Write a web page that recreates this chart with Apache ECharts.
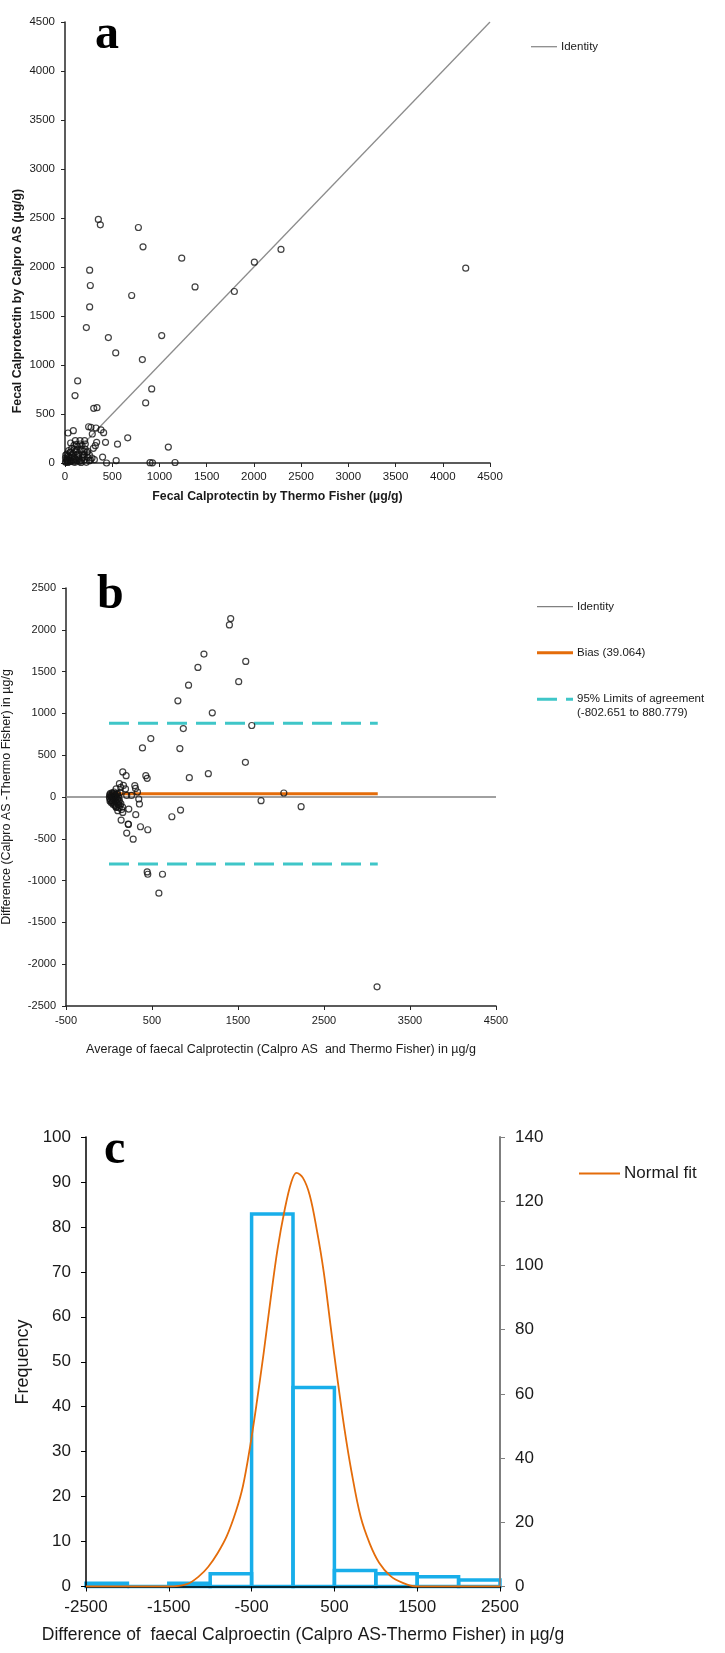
<!DOCTYPE html>
<html><head><meta charset="utf-8">
<script src="https://cdn.jsdelivr.net/npm/echarts@6.0.0/dist/echarts.min.js"></script>
<style>html,body{margin:0;padding:0;background:#fff}#c{width:725px;height:1653px}</style>
</head><body><div id="c"></div>
<script>
// ---------- Panel a: Calpro AS vs Thermo Fisher ----------
const scatterA = [
 [353,2485],[374,2430],[777,2403],[826,2206],[1236,2090],[2005,2049],[2287,2179],[4243,1988],
 [261,1968],[268,1811],[1377,1797],[706,1709],[1793,1750],[261,1593],[226,1382],[459,1280],
 [1024,1300],[537,1123],[819,1055],[134,837],[106,688],[918,756],[854,613],[304,558],[339,565],
 [32,306],[88,330],[60,204],[109,228],[159,228],[208,228],[162,194],[215,194],[134,167],[124,133],
 [53,109],[85,99],[117,116],[169,133],[198,119],[233,109],[258,82],[286,51],[311,34],[258,24],
 [398,60],[440,0],[542,25],[21,41],[35,75],[64,58],[99,51],[141,65],[180,51],[205,31],[56,17],
 [106,7],[155,17],[226,7],[11,7],[25,24],[85,31],[127,24],[177,24],[74,75],[240,58],[187,85],
 [148,92],[205,82],[39,126],[71,150],[212,143],[321,177],[335,211],[289,296],[250,370],[275,364],
 [328,357],[381,337],[409,309],[429,211],[556,192],[664,257],[1094,162],[900,3],[926,2],[1165,5],
 [5,10],[15,30],[30,5],[45,60],[20,90],[50,35],[70,20],[90,10],[110,40],[130,80],[150,45],[170,5],
 [190,60],[60,110],[100,140],[120,190],[180,180],[240,120],[270,30],[300,150],[5,50],[8,80],[40,15],[95,180]
];
const identityA = [[0,0],[4500,4500]];

// ---------- Panel b: Bland-Altman ----------
const blandB = [
 [1415,2134],[1400,2058],[1104,1710],[1590,1622],[1034,1550],[1508,1379],[925,1338],[801,1151],
 [1201,1007],[1660,855],[864,819],[486,699],[389,587],[824,579],[1586,415],[1155,279],[934,231],
 [428,255],[444,223],[160,300],[199,255],[121,159],[2033,48],[1768,-44],[2234,-116],[832,-156],
 [731,-236],[311,-212],[366,-356],[451,-392],[226,-328],[206,-432],[281,-504],[444,-896],[451,-924],
 [622,-924],[580,-1151],[3117,-2271],
 [136,115],[168,139],[192,96],[300,135],[308,103],[331,60],[346,-24],[354,-84],[261,19],[206,19],
 [230,-144],[160,-184],[141,-276],[223,-324],[83,-125],[102,-164],[63,-84],[121,-44],[43,-44],[83,96],[129,55],
 [5,0],[10,-20],[15,20],[20,-40],[25,10],[30,-10],[35,30],[40,-60],[45,5],[50,-25],[55,40],[60,-5],
 [65,15],[70,-50],[75,25],[80,-15],[85,0],[90,-70],[95,35],[100,-30],[105,10],[110,-90],[115,-10],
 [8,30],[12,-50],[18,45],[28,-70],[38,50],[48,-90],[58,60],[68,-100],[78,-110],[88,-120],[98,45],
 [108,-60],[118,-130],[128,-100],[138,-80],[148,-150],[158,-120]
];
const identityB = [[-500,0],[4500,0]];
const biasB = [[0,39.064],[3125,39.064]];
const upperLoA = [[0,880.779],[3125,880.779]];
const lowerLoA = [[0,-802.651],[3125,-802.651]];
const xLabelsB = [-500,500,1500,2500,3500,4500];

// ---------- Panel c: histogram of differences ----------
const histBinStarts = [-2500,-2000,-1500,-1000,-500,0,500,1000,1500,2000];
const histBinWidth = 500;
const histCounts = [1,0,1,4,116,62,5,4,3,2];
const normalFit = [
 [-2500,0],[-1500,0],[-1274,0.6],[-1134,2.3],[-1023,4.4],[-911,7.4],[-800,11.2],[-688,16.8],
 [-605,22.3],[-521,30.8],[-437,41],[-354,52],[-270,64],[-187,75],[-103,83.6],[-20,90],[42,92],
 [120,90.9],[203,87],[287,79.4],[371,70],[454,58],[538,46],[622,35],[705,25.7],[817,15.5],
 [928,9.5],[1040,5.3],[1179,2.3],[1319,0.85],[1487,0],[2500,0]
];
const xLabelsC = [-2500,-1500,-500,500,1500,2500];

const histData = histBinStarts.map((s, i) => [s, s + histBinWidth, histCounts[i]]);

const SANS = "'Liberation Sans',Arial,sans-serif";
const SERIF = "'Liberation Serif','Times New Roman',serif";
const AX = '#262626';
const plain = v => String(v);

const chart = echarts.init(document.getElementById('c'), null, {renderer:'canvas'});

function txt(x, y, s, font, size, opt) {
  opt = opt || {};
  return {type:'text', x:x, y:y, rotation: opt.rot || 0, silent:true,
    style:{text:s, fontFamily:font, fontSize:size, fontWeight: opt.bold ? 'bold':'normal',
      fill: opt.color || '#1a1a1a', align: opt.align || 'left', verticalAlign: opt.va || 'middle'}};
}
function seg(x1, y1, x2, y2, color, w, dash) {
  return {type:'line', silent:true, shape:{x1:x1,y1:y1,x2:x2,y2:y2},
    style:{stroke:color, lineWidth:w, lineDash: dash || null}};
}

const option = {
  animation:false,
  backgroundColor:'#fff',
  grid:[
    {left:65, top:22, width:425, height:441},
    {left:66, top:588, width:430, height:418},
    {left:86, top:1137, width:414, height:449.5}
  ],
  xAxis:[
    {gridIndex:0, type:'value', min:0, max:4500, interval:500,
     axisLine:{onZero:false, lineStyle:{color:AX, width:1.5}}, axisTick:{length:4, lineStyle:{color:AX}},
     axisLabel:{formatter:plain, fontFamily:SANS, fontSize:11.5, color:'#1a1a1a', margin:8}, splitLine:{show:false}},
    {gridIndex:1, type:'value', min:-500, max:4500, interval:500,
     axisLine:{onZero:false, lineStyle:{color:AX, width:1.5}},
     axisTick:{customValues:xLabelsB, length:4, lineStyle:{color:AX}},
     axisLabel:{customValues:xLabelsB, formatter:plain, fontFamily:SANS, fontSize:11, color:'#1a1a1a', margin:9},
     splitLine:{show:false}},
    {gridIndex:2, type:'value', min:-2500, max:2500, interval:500, z:3,
     axisLine:{onZero:false, lineStyle:{color:'#000', width:1.5}},
     axisTick:{customValues:xLabelsC, length:5, lineStyle:{color:'#000'}},
     axisLabel:{customValues:xLabelsC, formatter:plain, fontFamily:SANS, fontSize:17, color:'#1a1a1a', margin:12},
     splitLine:{show:false}}
  ],
  yAxis:[
    {gridIndex:0, type:'value', min:0, max:4500, interval:500,
     axisLine:{show:true, onZero:false, lineStyle:{color:AX, width:1.5}}, axisTick:{show:true, length:4, lineStyle:{color:AX}},
     axisLabel:{formatter:plain, fontFamily:SANS, fontSize:11.5, color:'#1a1a1a', margin:10}, splitLine:{show:false}},
    {gridIndex:1, type:'value', min:-2500, max:2500, interval:500,
     axisLine:{show:true, onZero:false, lineStyle:{color:AX, width:1.5}}, axisTick:{show:true, length:4, lineStyle:{color:AX}},
     axisLabel:{formatter:plain, fontFamily:SANS, fontSize:11, color:'#1a1a1a', margin:10}, splitLine:{show:false}},
    {gridIndex:2, type:'value', min:0, max:100, interval:10, position:'left', z:3,
     axisLine:{show:true, onZero:false, lineStyle:{color:'#000', width:1.5}}, axisTick:{show:true, length:5, lineStyle:{color:'#000'}},
     axisLabel:{formatter:plain, fontFamily:SANS, fontSize:17, color:'#1a1a1a', margin:15}, splitLine:{show:false}},
    {gridIndex:2, type:'value', min:0, max:140, interval:20, position:'right', z:3,
     axisLine:{show:true, onZero:false, lineStyle:{color:'#7f7f7f', width:2}}, axisTick:{show:true, length:5, lineStyle:{color:'#7f7f7f'}},
     axisLabel:{formatter:plain, fontFamily:SANS, fontSize:17, color:'#1a1a1a', margin:15}, splitLine:{show:false}}
  ],
  series:[
    {type:'line', name:'Identity', xAxisIndex:0, yAxisIndex:0, data:identityA, symbol:'none',
     lineStyle:{color:'#8c8c8c', width:1.3}, z:1, silent:true},
    {type:'scatter', xAxisIndex:0, yAxisIndex:0, data:scatterA, symbol:'circle', symbolSize:6,
     itemStyle:{color:'rgba(255,255,255,0)', borderColor:'#111', borderWidth:1.2}, z:3, silent:true},
    {type:'line', name:'Identity', xAxisIndex:1, yAxisIndex:1, data:identityB, symbol:'none',
     lineStyle:{color:'#808080', width:1.3}, z:1, silent:true},
    {type:'line', name:'Bias (39.064)', xAxisIndex:1, yAxisIndex:1, data:biasB, symbol:'none',
     lineStyle:{color:'#e46c0a', width:3}, z:2, silent:true},
    {type:'line', name:'95% Limits of agreement', xAxisIndex:1, yAxisIndex:1, data:upperLoA, symbol:'none',
     lineStyle:{color:'#3fc6c8', width:3, type:[20,9]}, z:2, silent:true},
    {type:'line', name:'95% Limits of agreement', xAxisIndex:1, yAxisIndex:1, data:lowerLoA, symbol:'none',
     lineStyle:{color:'#3fc6c8', width:3, type:[20,9]}, z:2, silent:true},
    {type:'scatter', xAxisIndex:1, yAxisIndex:1, data:blandB, symbol:'circle', symbolSize:6,
     itemStyle:{color:'rgba(255,255,255,0)', borderColor:'#111', borderWidth:1.2}, z:3, silent:true},
    {type:'custom', xAxisIndex:2, yAxisIndex:3, data:histData, z:1, silent:true,
     renderItem:function(params, api){
       const p0 = api.coord([api.value(0), api.value(2)]);
       const p1 = api.coord([api.value(1), 0]);
       return {type:'rect', shape:{x:p0[0], y:p0[1], width:p1[0]-p0[0], height:p1[1]-p0[1]},
         style:{fill:'none', stroke:'#18aeea', lineWidth:3.5}};
     }},
    {type:'line', name:'Normal fit', xAxisIndex:2, yAxisIndex:2, data:normalFit, symbol:'none',
     smooth:0.35, lineStyle:{color:'#e46c0a', width:1.8}, z:5, silent:true}
  ],
  graphic:[
    // panel letters
    txt(95, 35.5, 'a', SERIF, 48, {bold:true, color:'#000'}),
    txt(97, 595.5, 'b', SERIF, 48, {bold:true, color:'#000'}),
    txt(104, 1150.5, 'c', SERIF, 48, {bold:true, color:'#000'}),
    // axis titles
    txt(17.5, 301, 'Fecal Calprotectin by Calpro AS (µg/g)', SANS, 12.3, {bold:true, align:'center', rot:Math.PI/2}),
    txt(277.5, 496.7, 'Fecal Calprotectin by Thermo Fisher (µg/g)', SANS, 12.3, {bold:true, align:'center'}),
    txt(7, 797, 'Difference (Calpro AS -Thermo Fisher) in µg/g', SANS, 12.5, {align:'center', rot:Math.PI/2}),
    txt(281, 1050, 'Average of faecal Calprotectin (Calpro AS  and Thermo Fisher) in µg/g', SANS, 12.5, {align:'center'}),
    txt(23, 1362, 'Frequency', SANS, 18, {align:'center', rot:Math.PI/2}),
    txt(303, 1635.5, 'Difference of  faecal Calproectin (Calpro AS-Thermo Fisher) in µg/g', SANS, 17.5, {align:'center'}),
    // legends
    seg(531, 46.7, 557, 46.7, '#8c8c8c', 1.3),
    txt(561, 46.7, 'Identity', SANS, 11.5),
    seg(537, 606.7, 573, 606.7, '#808080', 1.3),
    txt(577, 606.7, 'Identity', SANS, 11.5),
    seg(537, 652.7, 573, 652.7, '#e46c0a', 3),
    txt(577, 652.7, 'Bias (39.064)', SANS, 11.5),
    seg(537, 699.3, 573, 699.3, '#3fc6c8', 3, [20,9]),
    txt(577, 699.3, '95% Limits of agreement', SANS, 11.5),
    txt(577, 712.7, '(-802.651 to 880.779)', SANS, 11.5),
    seg(579, 1173.6, 620, 1173.6, '#e46c0a', 2),
    txt(624, 1173.6, 'Normal fit', SANS, 17)
  ]
};
chart.setOption(option);
</script>
</body></html>
